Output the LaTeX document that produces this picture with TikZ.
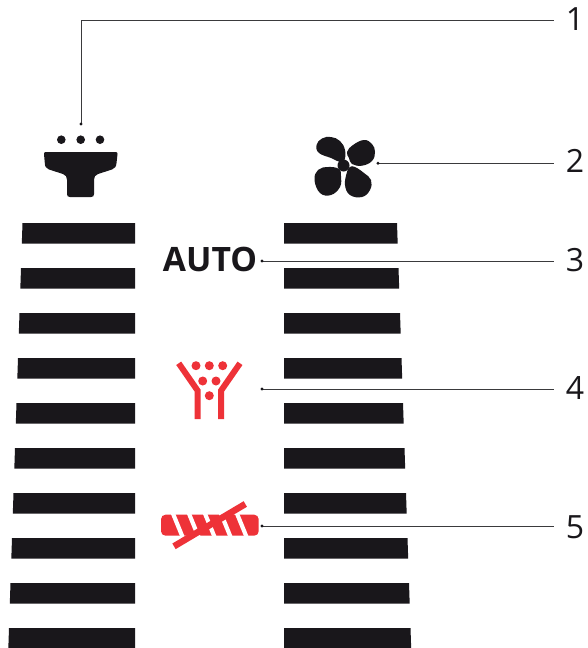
\documentclass[tikz,border=0pt]{standalone}
\usepackage{fontspec}
\setmainfont{Open Sans}
\definecolor{ink}{HTML}{19171B}
\definecolor{alert}{HTML}{EE3238}
\definecolor{leader}{HTML}{3A3A3C}
\tikzset{
  stripe/.style={fill=ink,draw=none},
  inkdot/.style={fill=ink,draw=none},
  reddot/.style={fill=alert,draw=none},
  redbar/.style={draw=alert,line width=6pt,line join=miter},
  leaderline/.style={draw=leader,line width=0.9pt},
  enddot/.style={fill=ink,draw=none},
  numlabel/.style={inner sep=0pt,minimum width=42pt,font=\fontsize{32}{32}\selectfont,text=ink,align=center},
  autolabel/.style={inner sep=0pt,font=\fontsize{33.6}{34}\selectfont\bfseries,text=ink},
}
\begin{document}
\begin{tikzpicture}[x=1pt,y=-1pt]
\useasboundingbox (0,0) rectangle (587,648);
\fill[white] (0,0) rectangle (587,648);
% stripes
\foreach \t in {223,268,313,358,403,448,493,538,583,628}{
  \pgfmathsetmacro{\b}{\t+20.5}
  \pgfmathsetmacro{\la}{22.5-(\t-223)/30}
  \pgfmathsetmacro{\lb}{22.5-(\b-223)/30}
  \pgfmathsetmacro{\ra}{397+(\t-223)/30}
  \pgfmathsetmacro{\rb}{397+(\b-223)/30}
  \fill[stripe] (\la,\t) -- (135,\t) -- (135,\b) -- (\lb,\b) -- cycle;
  \fill[stripe] (284,\t) -- (\ra,\t) -- (\rb,\b) -- (284,\b) -- cycle;
}
% shower icon
\foreach \x in {61.3,80.7,100}{\fill[inkdot] (\x,139.7) circle (4.3);}
\fill[ink] (46,152) -- (115.5,152) .. controls (117,152) and (117.5,152.5) .. (117.5,154)
  -- (116.5,163) .. controls (116,167) and (115,168) .. (112,169.5)
  -- (98,174) .. controls (95,175) and (94,177) .. (94,180)
  -- (94,194) .. controls (94,196) and (93,197) .. (91,197)
  -- (70,197) .. controls (68,197) and (67,196) .. (67,194)
  -- (67,180) .. controls (67,177) and (66,175) .. (63,174)
  -- (49,169.5) .. controls (46,168) and (45,167) .. (44.8,163)
  -- (44,154) .. controls (44,152.5) and (44.5,152) .. (46,152) -- cycle;
% fan
\fill[ink] plot[smooth cycle,tension=.7] coordinates {(340,162) (331,158) (319,153) (316.5,145) (322,138.5) (331,137) (340,141) (345,150) (344.5,160)};
\fill[ink] plot[smooth cycle,tension=.7] coordinates {(349,158) (347,152) (353,145) (364,140) (372,144) (375,152) (372,161) (362,165.7) (352,164)};
\fill[ink] plot[smooth cycle,tension=.7] coordinates {(347,172) (345,185) (350,195) (362,197) (370,190) (371,180) (364,173) (355,167) (350,167)};
\fill[ink] plot[smooth cycle,tension=.7] coordinates {(339,169) (328,167) (318,170) (314.5,180) (320,193) (331,195) (340,187) (341,176)};
\fill[ink] (343.5,165.5) circle (6);
% auto
\node[autolabel,anchor=center] (auto) at (210,259.5) {AUTO};
% funnel
\draw[redbar] (178.7,363.3) -- (197.7,390.7) -- (197.7,419);
\draw[redbar] (240,363.3) -- (221,390.7) -- (221,419);
\foreach \x/\y in {196/365.7,209.3/365.7,222.7/365.7,202.7/381,216/381,209.3/395.7}{
  \fill[reddot] (\x,\y) circle (4.5);
}
% barred roller
\fill[alert,rounded corners=4.5pt] (161,514.7) rectangle (258.7,535.7);
\foreach \i in {0,...,4}{
  \pgfmathsetmacro{\xa}{171+16*\i}
  \fill[white] (\xa,514.2) -- ({\xa+4.5},514.2) -- ({\xa+13.5},536.2) -- ({\xa+9},536.2) -- cycle;
}
\draw[alert,line width=6.5pt] (174,546.3) -- (245.3,504);
% labels
\node[numlabel] (n1) at (575,18.7) {1};
\node[numlabel] (n2) at (575,161) {2};
\node[numlabel] (n3) at (575,260) {3};
\node[numlabel] (n4) at (575,388) {4};
\node[numlabel] (n5) at (575,527) {5};
% leader ends
\coordinate (d1) at (81,124);
\coordinate (d2) at (378,163.3);
\coordinate (d3) at (262,261);
\coordinate (d4) at (262,389);
\coordinate (d5) at (262,526);
\coordinate (c1) at (81,20);
\draw[leaderline] (d1) -- (c1) -- (c1 -| n1.west);
\draw[leaderline] (d2) -- (d2 -| n2.west);
\draw[leaderline] (d3) -- (d3 -| n3.west);
\draw[leaderline] (d4) -- (d4 -| n4.west);
\draw[leaderline] (d5) -- (d5 -| n5.west);
\foreach \d in {d1,d2,d3,d4,d5}{\fill[enddot] (\d) circle (1.6);}
\end{tikzpicture}
\end{document}
